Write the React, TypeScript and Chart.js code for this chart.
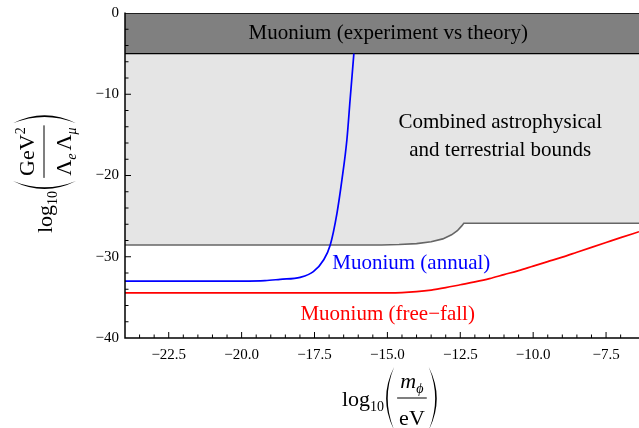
import React, { useEffect, useRef } from "react";
import { Chart, registerables } from "chart.js";

Chart.register(...registerables);

const FONT = '"Liberation Serif", "Times New Roman", serif';

const X_MIN = -24;
const X_MAX = -6.37;
const Y_MIN = -40;
const Y_MAX = 0;

const xMajorTicks = [-22.5, -20, -17.5, -15, -12.5, -10, -7.5];
const yMajorTicks = [0, -10, -20, -30, -40];

const bandTopY = 0;
const bandBottomY = -5;

const boundaryX = [-24, -15.2, -14.6, -14.0, -13.5, -13.1, -12.8, -12.6, -12.45, -12.38, -6.37];
const boundaryY = [-28.55, -28.55, -28.5, -28.38, -28.15, -27.8, -27.3, -26.8, -26.2, -25.88, -25.88];

const annualX = [-24, -20, -19.2, -18.68, -17.99, -17.54, -17.19, -16.96, -16.73, -16.56, -16.39, -16.28, -16.15];
const annualY = [-33, -33, -32.95, -32.78, -32.53, -31.84, -30.4, -28.55, -24.65, -20.55, -15.63, -10.71, -5];

const freeFallX = [-24, -15, -14.5, -14, -13.5, -13, -12.5, -12, -11.5, -11, -10.5, -10, -9.5, -9, -8.5, -8, -7.5, -7, -6.37];
const freeFallY = [-34.45, -34.45, -34.42, -34.3, -34.1, -33.8, -33.45, -33.1, -32.7, -32.2, -31.7, -31.15, -30.6, -30.05, -29.45, -28.85, -28.25, -27.65, -26.92];

const labelTexts = [
  "Muonium (experiment vs theory)",
  "Combined astrophysical",
  "and terrestrial bounds",
  "Muonium (annual)",
  "Muonium (free\u2212fall)",
];
const labelX = [-14.97, -11.13, -11.13, -14.18, -14.99];
const labelY = [-2.5, -13.5, -16.95, -30.77, -37.05];
const labelColors = ["#000000", "#000000", "#000000", "#0000ff", "#ff0000"];

const toPts = (xs: number[], ys: number[]) => xs.map((x, i) => ({ x, y: ys[i] }));

const fmt = (v: number, digits: number) => {
  const s = Math.abs(v).toFixed(digits);
  return v < 0 ? "\u2212" + s : s;
};

type Run = { t: string; size: number; italic?: boolean; dy?: number; dx?: number };

function setFont(ctx: CanvasRenderingContext2D, r: Run) {
  ctx.font = `${r.italic ? "italic " : ""}${r.size}px ${FONT}`;
}
function runsWidth(ctx: CanvasRenderingContext2D, runs: Run[]) {
  let w = 0;
  for (const r of runs) {
    setFont(ctx, r);
    w += ctx.measureText(r.t).width + (r.dx || 0);
  }
  return w;
}
function drawRuns(ctx: CanvasRenderingContext2D, runs: Run[], x: number, base: number) {
  for (const r of runs) {
    setFont(ctx, r);
    x += r.dx || 0;
    ctx.fillText(r.t, x, base + (r.dy || 0));
    x += ctx.measureText(r.t).width;
  }
}
function paren(ctx: CanvasRenderingContext2D, x: number, top: number, bot: number, w: number, left: boolean) {
  const mid = (top + bot) / 2;
  ctx.beginPath();
  if (left) {
    const ex = x + w;
    ctx.moveTo(ex, top);
    ctx.quadraticCurveTo(x - w, mid, ex, bot);
    ctx.quadraticCurveTo(x + 3.2 - w, mid, ex, top);
  } else {
    ctx.moveTo(x, top);
    ctx.quadraticCurveTo(x + 2 * w, mid, x, bot);
    ctx.quadraticCurveTo(x + 2 * w - 3.2, mid, x, top);
  }
  ctx.closePath();
  ctx.fill();
}
function drawTitle(ctx: CanvasRenderingContext2D, x0: number, base: number, num: Run[], den: Run[]) {
  ctx.fillStyle = "#000";
  ctx.textAlign = "left";
  ctx.textBaseline = "alphabetic";
  let x = x0;
  drawRuns(ctx, [{ t: "log", size: 22 }], x, base);
  x += runsWidth(ctx, [{ t: "log", size: 22 }]);
  drawRuns(ctx, [{ t: "10", size: 14 }], x, base + 5);
  x += runsWidth(ctx, [{ t: "10", size: 14 }]) + 2;
  const bar = base - 8;
  paren(ctx, x, bar - 31, bar + 32, 8, true);
  x += 11;
  const nw = runsWidth(ctx, num);
  const dw = runsWidth(ctx, den);
  const fw = Math.max(nw, dw) + 4;
  ctx.fillRect(x, bar - 0.5, fw, 1);
  drawRuns(ctx, num, x + (fw - nw) / 2, bar - 10);
  drawRuns(ctx, den, x + (fw - dw) / 2, bar + 27);
  x += fw + 2;
  paren(ctx, x, bar - 31, bar + 32, 8, false);
}

const decorPlugin = {
  id: "decor",
  afterDatasetsDraw(chart: any) {
    const ctx: CanvasRenderingContext2D = chart.ctx;
    const xs = chart.scales.x;
    const ys = chart.scales.y;
    const area = chart.chartArea;
    ctx.save();
    ctx.font = `21px ${FONT}`;
    ctx.textAlign = "center";
    ctx.textBaseline = "middle";
    labelTexts.forEach((t, i) => {
      ctx.fillStyle = labelColors[i];
      ctx.fillText(t, xs.getPixelForValue(labelX[i]), ys.getPixelForValue(labelY[i]));
    });
    ctx.strokeStyle = "#000";
    ctx.lineWidth = 1.5;
    ctx.beginPath();
    ctx.moveTo(area.left, area.top - 0.5);
    ctx.lineTo(area.left, area.bottom);
    ctx.lineTo(area.right, area.bottom);
    ctx.stroke();
    ctx.lineWidth = 1;
    ctx.beginPath();
    for (const tk of xs.ticks) {
      const v = tk.value;
      if (v <= X_MIN + 1e-9 || v >= X_MAX - 1e-9) continue;
      const px = xs.getPixelForValue(v);
      const major = xMajorTicks.some((m) => Math.abs(m - v) < 1e-6);
      const len = major ? 6 : 3.5;
      ctx.moveTo(px, area.bottom);
      ctx.lineTo(px, area.bottom - len);
    }
    for (const tk of ys.ticks) {
      const v = tk.value;
      if (v <= Y_MIN + 1e-9 || v >= Y_MAX - 1e-9) continue;
      const py = ys.getPixelForValue(v);
      const major = yMajorTicks.some((m) => Math.abs(m - v) < 1e-6);
      const len = major ? 6 : 3.5;
      ctx.moveTo(area.left, py);
      ctx.lineTo(area.left + len, py);
    }
    ctx.stroke();
    ctx.restore();
  },
  afterDraw(chart: any) {
    const ctx: CanvasRenderingContext2D = chart.ctx;
    ctx.save();
    drawTitle(
      ctx,
      342,
      406,
      [
        { t: "m", size: 22, italic: true },
        { t: "\u03d5", size: 14, italic: true, dy: 5 },
      ],
      [{ t: "eV", size: 22 }]
    );
    ctx.restore();
    ctx.save();
    ctx.translate(52, 233);
    ctx.rotate(-Math.PI / 2);
    drawTitle(
      ctx,
      0,
      0,
      [
        { t: "GeV", size: 22 },
        { t: "2", size: 14, dy: -9 },
      ],
      [
        { t: "\u039b", size: 22 },
        { t: "e", size: 14, italic: true, dy: 5 },
        { t: "\u039b", size: 22, dx: 3 },
        { t: "\u03bc", size: 14, italic: true, dy: 5 },
      ]
    );
    ctx.restore();
  },
};

export default function App() {
  const ref = useRef<HTMLCanvasElement>(null);
  useEffect(() => {
    if (!ref.current) return;
    const chart = new Chart(ref.current, {
      type: "line",
      data: {
        datasets: [
          {
            data: toPts([X_MIN, X_MAX], [bandBottomY, bandBottomY]),
            borderColor: "#000",
            borderWidth: 1.3,
            backgroundColor: "#808080",
            fill: { value: bandTopY },
            pointRadius: 0,
            order: 4,
          },
          {
            data: toPts([X_MIN, X_MAX], [bandTopY, bandTopY]),
            borderColor: "#000",
            borderWidth: 1.5,
            fill: false,
            pointRadius: 0,
            order: 1,
          },
          {
            data: toPts(boundaryX, boundaryY),
            borderColor: "#666666",
            borderWidth: 1.6,
            backgroundColor: "#e5e5e5",
            fill: { value: bandBottomY },
            pointRadius: 0,
            tension: 0,
            order: 5,
          },
          {
            data: toPts(annualX, annualY),
            borderColor: "#0000ff",
            borderWidth: 1.7,
            fill: false,
            pointRadius: 0,
            cubicInterpolationMode: "monotone",
            order: 2,
          },
          {
            data: toPts(freeFallX, freeFallY),
            borderColor: "#ff0000",
            borderWidth: 1.7,
            fill: false,
            pointRadius: 0,
            cubicInterpolationMode: "monotone",
            order: 2,
          },
        ] as any,
      },
      options: {
        animation: false,
        responsive: false,
        devicePixelRatio: window.devicePixelRatio || 1,
        layout: { padding: { top: 13, right: 0, left: 0, bottom: 0 } },
        plugins: { legend: { display: false }, tooltip: { enabled: false } },
        events: [],
        scales: {
          x: {
            type: "linear",
            min: X_MIN,
            max: X_MAX,
            grid: { display: false, drawTicks: false },
            border: { display: false },
            ticks: {
              stepSize: 0.5,
              autoSkip: false,
              maxRotation: 0,
              padding: 8,
              color: "#000",
              font: { family: FONT, size: 15 },
              callback: (v: any) => {
                const n = Number(v);
                return xMajorTicks.some((m) => Math.abs(m - n) < 1e-6) ? fmt(n, 1) : "";
              },
            },
            afterFit: (s: any) => {
              s.height = 90;
              s.paddingLeft = 0;
              s.paddingRight = 0;
            },
          },
          y: {
            type: "linear",
            min: Y_MIN,
            max: Y_MAX,
            grid: { display: false, drawTicks: false },
            border: { display: false },
            ticks: {
              stepSize: 2,
              autoSkip: false,
              padding: 6,
              color: "#000",
              font: { family: FONT, size: 15 },
              callback: (v: any) => {
                const n = Number(v);
                return yMajorTicks.some((m) => Math.abs(m - n) < 1e-6) ? fmt(n, 0) : "";
              },
            },
            afterFit: (s: any) => {
              s.width = 125;
              s.paddingTop = 0;
              s.paddingBottom = 0;
            },
          },
        },
      },
      plugins: [decorPlugin],
    });
    return () => chart.destroy();
  }, []);
  return (
    <div style={{ position: "fixed", left: 0, top: 0, width: 639, height: 428 }}>
      <canvas ref={ref} width={639} height={428} style={{ display: "block" }} />
    </div>
  );
}
